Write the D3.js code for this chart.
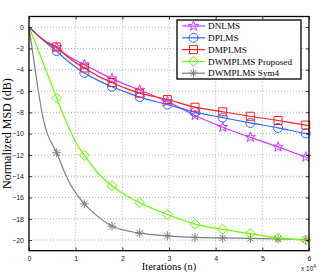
<!DOCTYPE html>
<html>
<head>
<meta charset="utf-8">
<script src="https://cdn.jsdelivr.net/npm/d3@7"></script>
<style>
  body { margin: 0; background: #fff; }
  svg { display: block; }
</style>
</head>
<body>
<script>
// sample iterations used for the curves (markers sit on a subset of them)
const lineIters = [0, 1000, 2000, 3000, 4000, 5000, 5930, 7400, 8900, 10400, 11860, 14800,
  17790, 20750, 23720, 29650, 35580, 41510, 47440, 53370, 59300, 60000];
const markerIters = [5930, 11860, 17790, 23720, 29650, 35580, 41510, 47440, 53370, 59300];

// normalized MSD (dB)
const dnlms = [0, -0.4, -0.8, -1.15, -1.5, -1.72, -1.9, -2.4, -2.85, -3.2, -3.52, -4.2,
  -4.84, -5.4, -5.9, -7.0, -8.3, -9.4, -10.35, -11.25, -12.2, -12.3];
const dplms = [0, -0.42, -0.82, -1.2, -1.58, -1.92, -2.25, -2.85, -3.4, -3.88, -4.3, -5.0,
  -5.6, -6.1, -6.57, -7.27, -7.99, -8.5, -9.0, -9.46, -9.98, -10.03];
const dmplms = [0, -0.4, -0.8, -1.15, -1.45, -1.65, -1.86, -2.45, -3.0, -3.45, -3.84, -4.6,
  -5.2, -5.75, -6.2, -6.8, -7.52, -7.95, -8.37, -8.77, -9.2, -9.25];
const proposed = [0, -1.1, -2.2, -3.3, -4.45, -5.6, -6.67, -8.3, -9.8, -11.1, -12.04, -13.7,
  -14.9, -15.8, -16.5, -17.6, -18.5, -19.0, -19.4, -19.8, -20.0, -19.95];
const sym4 = [0, -3.0, -6.0, -8.5, -10.1, -11.0, -11.8, -13.4, -14.8, -15.8, -16.6, -17.8,
  -18.7, -19.1, -19.35, -19.6, -19.75, -19.8, -19.85, -19.9, -19.95, -19.95];

const seriesNames = ["DNLMS", "DPLMS", "DMPLMS", "DWMPLMS Proposed", "DWMPLMS Sym4"];
const seriesValues = [dnlms, dplms, dmplms, proposed, sym4];
const seriesColors = ["#c83cff", "#3366ff", "#ff1f1f", "#66ff00", "#7f7f7f"];
const seriesMarkers = ["star", "circle", "square", "diamond", "asterisk"];

const xTicks = [0, 10000, 20000, 30000, 40000, 50000, 60000];
const yTicks = [0, -2, -4, -6, -8, -10, -12, -14, -16, -18, -20];

const width = 322, height = 273;
const margin = { left: 29, right: 13, top: 16.5, bottom: 22.3 };

const svg = d3.select("body").append("svg")
  .attr("width", width)
  .attr("height", height);

const x = d3.scaleLinear().domain([0, 60000]).range([margin.left, width - margin.right]);
const y = d3.scaleLinear().domain([-21, 1]).range([height - margin.bottom, margin.top]);

// dotted grid
svg.append("g").selectAll("line")
  .data(xTicks.slice(1, -1))
  .join("line")
  .attr("x1", d => x(d)).attr("x2", d => x(d))
  .attr("y1", y(-21)).attr("y2", y(1))
  .attr("stroke", "#9a9a9a").attr("stroke-width", 0.8)
  .attr("stroke-dasharray", "1,2");
svg.append("g").selectAll("line")
  .data(yTicks)
  .join("line")
  .attr("x1", x(0)).attr("x2", x(60000))
  .attr("y1", d => y(d)).attr("y2", d => y(d))
  .attr("stroke", "#9a9a9a").attr("stroke-width", 0.8)
  .attr("stroke-dasharray", "1,2");

// curves
const line = d3.line()
  .x((d, i) => x(lineIters[i]))
  .y(d => y(d))
  .curve(d3.curveMonotoneX);

// marker shapes
function markerPath(type) {
  if (type === "star") return d3.symbol(d3.symbolStar, 32)();
  if (type === "circle") return d3.symbol(d3.symbolCircle, Math.PI * 4.5 * 4.5)();
  if (type === "square") return "M-4,-4H4V4H-4Z";
  if (type === "diamond") return "M0,-5L5,0L0,5L-5,0Z";
  return "M-4.5,0H4.5M0,-4.5V4.5M-3.2,-3.2L3.2,3.2M-3.2,3.2L3.2,-3.2";
}

// draw in reverse so that DNLMS ends up on top like the original
const order = [4, 3, 0, 1, 2];
order.forEach(s => {
  const g = svg.append("g");
  g.append("path")
    .datum(seriesValues[s])
    .attr("d", line)
    .attr("fill", "none")
    .attr("stroke", seriesColors[s])
    .attr("stroke-width", 1.2);
  g.selectAll("path.m")
    .data(markerIters)
    .join("path")
    .attr("class", "m")
    .attr("transform", d => `translate(${x(d)},${y(seriesValues[s][lineIters.indexOf(d)])})`)
    .attr("d", markerPath(seriesMarkers[s]))
    .attr("fill", "none")
    .attr("stroke", seriesColors[s])
    .attr("stroke-width", 1);
});

// axes (ticks pointing inward on all sides)
const tickFont = "Liberation Sans, Arial, sans-serif";
svg.append("g")
  .attr("transform", `translate(0,${y(-21)})`)
  .call(d3.axisBottom(x).tickValues(xTicks).tickSize(-3).tickPadding(5)
    .tickFormat(d => d / 10000));
svg.append("g")
  .attr("transform", `translate(${x(0)},0)`)
  .call(d3.axisLeft(y).tickValues(yTicks).tickSize(-3).tickPadding(5)
    .tickFormat(d => d < 0 ? "\u2212" + (-d) : d));
svg.append("g")
  .attr("transform", `translate(0,${y(1)})`)
  .call(d3.axisTop(x).tickValues(xTicks).tickSize(-3).tickFormat(""));
svg.append("g")
  .attr("transform", `translate(${x(60000)},0)`)
  .call(d3.axisRight(y).tickValues(yTicks).tickSize(-3).tickFormat(""));

svg.selectAll(".domain").remove();
svg.selectAll(".tick line").attr("stroke", "#000").attr("stroke-width", 0.8);
svg.selectAll(".tick text")
  .style("font-family", tickFont)
  .style("font-size", "7px")
  .attr("fill", "#222");

// axes box
svg.append("rect")
  .attr("x", x(0)).attr("y", y(1))
  .attr("width", x(60000) - x(0)).attr("height", y(-21) - y(1))
  .attr("fill", "none").attr("stroke", "#000").attr("stroke-width", 1.3);

// axis labels
const serif = "Liberation Serif, Times New Roman, serif";
svg.append("text")
  .attr("x", (x(0) + x(60000)) / 2).attr("y", 270)
  .attr("text-anchor", "middle")
  .style("font-family", serif).style("font-size", "10.5px")
  .text("Iterations (n)");
svg.append("text")
  .attr("transform", `translate(11,${(y(1) + y(-21)) / 2}) rotate(-90)`)
  .attr("text-anchor", "middle")
  .style("font-family", serif).style("font-size", "12px")
  .text("Normalized MSD (dB)");
const exp = svg.append("text")
  .attr("x", 301).attr("y", 271)
  .style("font-family", tickFont).style("font-size", "6.5px")
  .attr("fill", "#222");
exp.append("tspan").text("x 10");
exp.append("tspan").attr("dy", -3).style("font-size", "5px").text("4");

// legend
const legend = svg.append("g");
legend.append("rect")
  .attr("x", 177).attr("y", 20).attr("width", 124).attr("height", 59)
  .attr("fill", "#fff").attr("stroke", "#000").attr("stroke-width", 1.3);
seriesNames.forEach((name, i) => {
  const ly = 26 + i * 11.8;
  const row = legend.append("g");
  row.append("line")
    .attr("x1", 182).attr("x2", 205).attr("y1", ly).attr("y2", ly)
    .attr("stroke", seriesColors[i]).attr("stroke-width", 1.2);
  row.append("path")
    .attr("transform", `translate(193.5,${ly})`)
    .attr("d", markerPath(seriesMarkers[i]))
    .attr("fill", "none").attr("stroke", seriesColors[i]).attr("stroke-width", 1);
  row.append("text")
    .attr("x", 208).attr("y", ly + 3.2)
    .style("font-family", serif).style("font-size", "9.2px")
    .text(name);
});
</script>
</body>
</html>
